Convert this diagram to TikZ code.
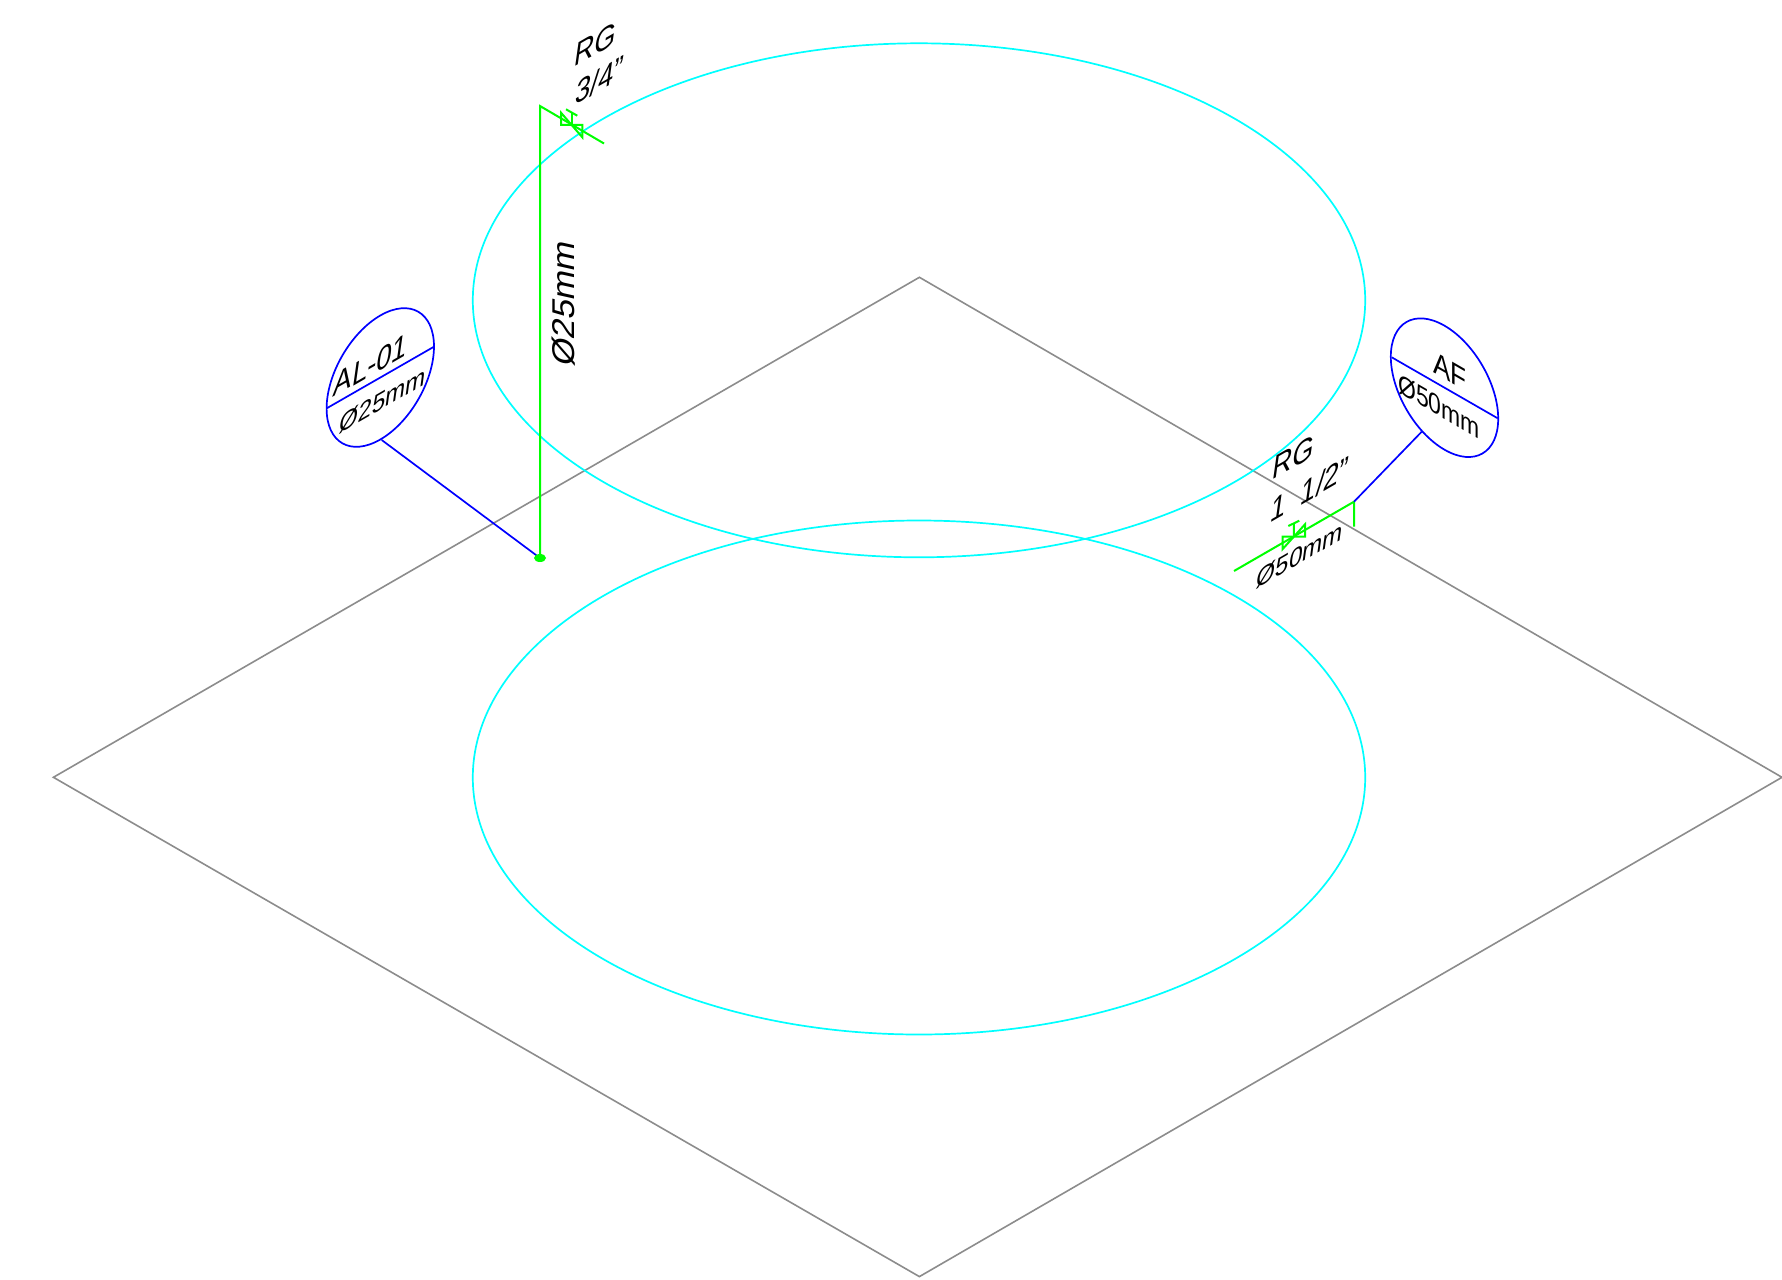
\documentclass[tikz,border=0pt]{standalone}
\usepackage{fontspec}
\setmainfont{Liberation Sans}
\definecolor{pipegreen}{RGB}{0,255,0}
\definecolor{ringcyan}{RGB}{0,255,255}
\definecolor{tagblue}{RGB}{0,0,255}
\definecolor{slabgray}{RGB}{140,140,140}
\tikzset{
  slabline/.style={draw=slabgray,line width=1.6pt,line join=miter},
  ringline/.style={draw=ringcyan,line width=1.7pt},
  pipeline/.style={draw=pipegreen,line width=2pt},
  tagline/.style={draw=tagblue,line width=1.7pt},
  big/.style={font=\fontsize{30}{30}\selectfont,inner sep=0pt,transform shape,text=black},
  small/.style={font=\fontsize{26.5}{26.5}\selectfont,inner sep=0pt,transform shape,text=black},
  tall/.style={font=\fontsize{35}{35}\selectfont,inner sep=0pt,transform shape,text=black},
  upiso/.style={cm={0.91,0.525,0.16,1.14,(#1)}},
  upisosmall/.style={cm={0.91,0.525,0.14,1.03,(#1)}},
  downiso/.style={cm={0.866,-0.5,0,1.05,(#1)}},
  vertiso/.style={cm={0,1,-0.9,0.2,(#1)}}
}
\begin{document}
\begin{tikzpicture}[x=1pt,y=-1pt]
\useasboundingbox (0,0) rectangle (1782,1279);
% slab
\coordinate (st) at (919.4,277.3);
\coordinate (sl) at (53.4,777.3);
\coordinate (sb) at (919.4,1276.6);
\coordinate (sr) at (1782,777.3);
\draw[slabline] (st) -- (sl) -- (sb) -- (sr) -- cycle;
% rings
\draw[ringline] (919,300.3) ellipse [x radius=446.2,y radius=257];
\draw[ringline] (919,777.5) ellipse [x radius=446.2,y radius=257];
% left riser
\coordinate (foot) at (540,558);
\coordinate (bend) at (540,106);
\coordinate (endA) at (604,143.5);
\coordinate (vA) at (571.7,125);
\draw[tagline] (381.7,440) coordinate (tagLfoot) -- (foot);
\draw[pipeline] (foot) -- (bend) -- (endA);
\fill[pipegreen] (foot) ellipse [x radius=6,y radius=4];
% valve A
\draw[pipeline] (561,112.7) -- (561,125) -- (582.3,125) -- (582.3,137.3) -- cycle;
\draw[pipeline] (vA) -- (571.7,112.5);
\draw[pipeline] (566,109.3) -- (577.3,115.7);
% right branch
\coordinate (endB) at (1234,571);
\coordinate (bendB) at (1354,501.7);
\coordinate (dropB) at (1354,526.7);
\coordinate (vB) at (1294,536.7);
\draw[pipeline] (endB) -- (bendB) -- (dropB);
\draw[tagline] (bendB) -- (1421.7,431.7) coordinate (tagRfoot);
% valve B
\draw[pipeline] (1282.7,549) -- (1282.7,536.7) -- (1305,536.7) -- (1305,524.3) -- cycle;
\draw[pipeline] (vB) -- (1293.8,523.3);
\draw[pipeline] (1288.3,526) -- (1299.3,520.7);
% tags
\draw[tagline,cm={0.866,0.5,0,1,(380.3,377.5)}] (0,0) circle [radius=62pt];
\draw[tagline] (326.7,408.3) -- (434,346.7);
\draw[tagline,cm={0.866,-0.5,0,1,(1444.5,387.7)}] (0,0) circle [radius=62pt];
\draw[tagline] (1391.7,357.3) -- (1497.7,418.3);
% labels
\node[big,upiso={596,44}] (rgA) at (0,0) {RG};
\node[big,upiso={600,80}] (szA) at (0,0) {3/4"};
\node[tall,vertiso={564,303}] (diaA) at (0,0) {Ø25mm};
\node[big,upiso={371,365}] (al) at (0,0) {AL-01};
\node[small,upisosmall={383,400}] (alD) at (0,0) {Ø25mm};
\node[big,downiso={1450,371.7}] (af) at (0,0) {AF};
\node[small,downiso={1439,406}] (afD) at (0,0) {Ø50mm};
\node[big,upiso={1294,457}] (rgB) at (0,0) {RG};
\node[big,upiso={1310,489}] (szB) at (0,0) {1\ \ 1/2"};
\node[small,upisosmall={1300,555}] (diaB) at (0,0) {Ø50mm};
\end{tikzpicture}
\end{document}
